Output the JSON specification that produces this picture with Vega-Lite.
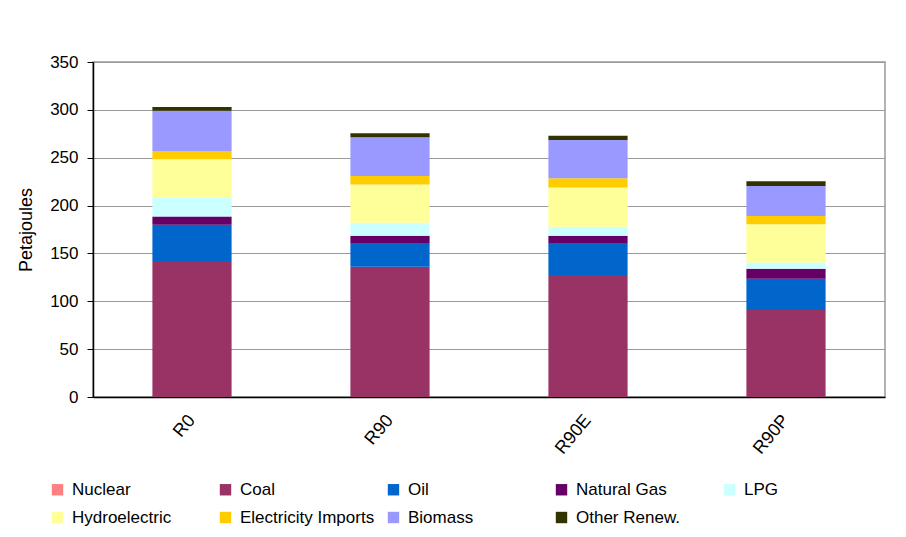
{
  "$schema": "https://vega.github.io/schema/vega-lite/v6.json",
  "width": 792,
  "height": 335,
  "autosize": "none",
  "padding": {"left": 93, "top": 62, "right": 21, "bottom": 140},
  "background": "white",
  "config": {
    "font": "Liberation Sans",
    "view": {"stroke": "#999999", "strokeWidth": 1.5},
    "axis": {"labelFont": "Liberation Sans", "titleFont": "Liberation Sans", "labelColor": "black", "titleColor": "black"}
  },
  "data": {
    "values": [
      {"scenario": "R0", "source": "Nuclear", "k": 0, "pj": 0},
      {"scenario": "R0", "source": "Coal", "k": 1, "pj": 142},
      {"scenario": "R0", "source": "Oil", "k": 2, "pj": 38},
      {"scenario": "R0", "source": "Natural Gas", "k": 3, "pj": 8.5},
      {"scenario": "R0", "source": "LPG", "k": 4, "pj": 20},
      {"scenario": "R0", "source": "Hydroelectric", "k": 5, "pj": 40},
      {"scenario": "R0", "source": "Electricity Imports", "k": 6, "pj": 8.5},
      {"scenario": "R0", "source": "Biomass", "k": 7, "pj": 42},
      {"scenario": "R0", "source": "Other Renew.", "k": 8, "pj": 4},
      {"scenario": "R90", "source": "Nuclear", "k": 0, "pj": 0},
      {"scenario": "R90", "source": "Coal", "k": 1, "pj": 136},
      {"scenario": "R90", "source": "Oil", "k": 2, "pj": 24},
      {"scenario": "R90", "source": "Natural Gas", "k": 3, "pj": 8.5},
      {"scenario": "R90", "source": "LPG", "k": 4, "pj": 13.5},
      {"scenario": "R90", "source": "Hydroelectric", "k": 5, "pj": 40},
      {"scenario": "R90", "source": "Electricity Imports", "k": 6, "pj": 9},
      {"scenario": "R90", "source": "Biomass", "k": 7, "pj": 40.5},
      {"scenario": "R90", "source": "Other Renew.", "k": 8, "pj": 4},
      {"scenario": "R90E", "source": "Nuclear", "k": 0, "pj": 0},
      {"scenario": "R90E", "source": "Coal", "k": 1, "pj": 127.5},
      {"scenario": "R90E", "source": "Oil", "k": 2, "pj": 32.5},
      {"scenario": "R90E", "source": "Natural Gas", "k": 3, "pj": 8.5},
      {"scenario": "R90E", "source": "LPG", "k": 4, "pj": 9.5},
      {"scenario": "R90E", "source": "Hydroelectric", "k": 5, "pj": 41},
      {"scenario": "R90E", "source": "Electricity Imports", "k": 6, "pj": 9.5},
      {"scenario": "R90E", "source": "Biomass", "k": 7, "pj": 40},
      {"scenario": "R90E", "source": "Other Renew.", "k": 8, "pj": 4.5},
      {"scenario": "R90P", "source": "Nuclear", "k": 0, "pj": 0},
      {"scenario": "R90P", "source": "Coal", "k": 1, "pj": 91},
      {"scenario": "R90P", "source": "Oil", "k": 2, "pj": 32.5},
      {"scenario": "R90P", "source": "Natural Gas", "k": 3, "pj": 10.5},
      {"scenario": "R90P", "source": "LPG", "k": 4, "pj": 6.5},
      {"scenario": "R90P", "source": "Hydroelectric", "k": 5, "pj": 40},
      {"scenario": "R90P", "source": "Electricity Imports", "k": 6, "pj": 8.5},
      {"scenario": "R90P", "source": "Biomass", "k": 7, "pj": 31.5},
      {"scenario": "R90P", "source": "Other Renew.", "k": 8, "pj": 5}
    ]
  },
  "mark": {"type": "bar"},
  "encoding": {
    "x": {
      "field": "scenario",
      "type": "nominal",
      "sort": ["R0", "R90", "R90E", "R90P"],
      "scale": {"paddingInner": 0.6, "paddingOuter": 0.3},
      "axis": {
        "title": null,
        "labelAngle": -50,
        "labelFontSize": 18,
        "labelPadding": 20,
        "ticks": false,
        "domainColor": "black",
        "domainWidth": 1.5,
        "grid": false
      }
    },
    "y": {
      "field": "pj",
      "type": "quantitative",
      "stack": "zero",
      "scale": {"domain": [0, 350]},
      "axis": {
        "title": "Petajoules",
        "titleFontSize": 18,
        "titleFontWeight": "normal",
        "titlePadding": 14,
        "values": [0, 50, 100, 150, 200, 250, 300, 350],
        "labelFontSize": 17,
        "labelPadding": 9,
        "tickSize": 6,
        "tickColor": "black",
        "domainColor": "black",
        "domainWidth": 1.5,
        "gridColor": "#999999",
        "gridWidth": 1.2
      }
    },
    "order": {"field": "k", "type": "quantitative"},
    "color": {
      "field": "source",
      "type": "nominal",
      "sort": ["Nuclear", "Coal", "Oil", "Natural Gas", "LPG", "Hydroelectric", "Electricity Imports", "Biomass", "Other Renew."],
      "scale": {
        "domain": ["Nuclear", "Coal", "Oil", "Natural Gas", "LPG", "Hydroelectric", "Electricity Imports", "Biomass", "Other Renew."],
        "range": ["#FF8080", "#993366", "#0066CC", "#660066", "#CCFFFF", "#FFFF99", "#FFCC00", "#9999FF", "#333300"]
      },
      "legend": {
        "title": null,
        "orient": "none",
        "legendX": -44,
        "legendY": 419,
        "direction": "horizontal",
        "columns": 5,
        "gridAlign": "all",
        "columnPadding": 10,
        "rowPadding": 10,
        "symbolType": "square",
        "symbolSize": 130,
        "symbolStrokeWidth": 0,
        "symbolOpacity": 1,
        "labelFontSize": 17,
        "labelFont": "Liberation Sans",
        "labelColor": "black",
        "labelOffset": 6,
        "labelLimit": 200,
        "padding": 0
      }
    }
  }
}
